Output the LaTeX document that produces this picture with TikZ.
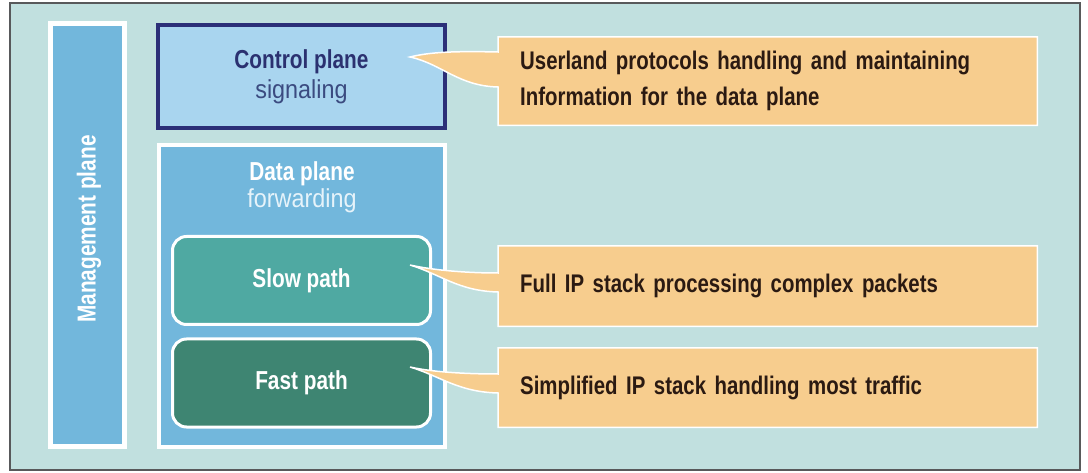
\documentclass[tikz,border=0pt]{standalone}
\usepackage{fontspec}
\setmainfont{Liberation Sans}
\newfontfamily\condfont[FakeStretch=0.8]{Liberation Sans}
\newfontfamily\softfont[FakeStretch=0.9]{Liberation Sans}

\definecolor{paper}{HTML}{C1E0DF}
\definecolor{framegray}{HTML}{58595B}
\definecolor{mgmtblue}{HTML}{72B7DC}
\definecolor{ctrlblue}{HTML}{A9D5EF}
\definecolor{navy}{HTML}{2B2F78}
\definecolor{navytext}{HTML}{2B3170}
\definecolor{signaltext}{HTML}{3B4B80}
\definecolor{slowteal}{HTML}{4FA9A2}
\definecolor{fastteal}{HTML}{3E8572}
\definecolor{notefill}{HTML}{F7CD8E}
\definecolor{notetext}{HTML}{2B1A12}
\definecolor{fwdtext}{HTML}{E6F3FA}

\pgfdeclarelayer{boxes}
\pgfdeclarelayer{bubbles}
\pgfsetlayers{boxes,bubbles,main}

\begin{document}
\begin{tikzpicture}[x=1pt,y=-1pt,
  frame/.style={draw=framegray,line width=1.5pt,fill=paper,minimum width=1070pt,minimum height=467pt,inner sep=0pt},
  mgmtbox/.style={draw=white,line width=5pt,fill=mgmtblue,minimum width=423pt,minimum height=74pt,inner sep=0pt,
    rotate=90,text=white,font=\condfont\fontsize{26}{28}\selectfont\bfseries},
  ctrlbox/.style={draw=navy,line width=4pt,fill=ctrlblue,minimum width=287pt,minimum height=103pt,inner sep=0pt,align=center},
  databox/.style={draw=white,line width=4pt,fill=mgmtblue,minimum width=286pt,minimum height=302pt,inner sep=0pt},
  pathbox/.style={draw=white,line width=3pt,rounded corners=14pt,minimum width=258pt,minimum height=88pt,inner sep=0pt,
    text=white,font=\condfont\fontsize{26}{28}\selectfont\bfseries},
  notebox/.style={anchor=north west,minimum width=539pt,text width=495pt,inner xsep=22pt,inner ysep=0pt,align=left,
    text=notetext,font=\condfont\fontsize{25.5}{36}\selectfont\bfseries},
  bubble/.style={fill=notefill,draw=white,line width=1.5pt,line join=miter}
]
\useasboundingbox (0,0) rectangle (1088,473);

\begin{pgfonlayer}{boxes}
  \fill[white] (0,0) rectangle (1088,473);
  \node[frame] (frame) at (545,236.5) {};
  % management plane column, label set upwards
  \node[mgmtbox] (mgmt) at (87.5,235) {};
  \node[rotate=90,text=white,font=\condfont\fontsize{26}{28}\selectfont\bfseries,inner sep=0pt]
    (mgmtlbl) at (89,229) {Management plane};
  % control plane
  \node[ctrlbox,font=\fontsize{26}{30}\selectfont] (ctrl) at (301.5,77)
    {{\condfont\bfseries\color{navytext}Control plane}\\
     {\softfont\color{signaltext}signaling}};
  % data plane with its two paths
  \node[databox] (data) at (302,296) {};
  \node[align=center,inner sep=0pt,font=\fontsize{26}{27}\selectfont] (datalbl) at (302,187)
    {{\condfont\bfseries\color{white}Data plane}\\
     {\softfont\color{fwdtext}forwarding}};
  \node[pathbox,fill=slowteal] (slow) at (301.5,280.5) {Slow path};
  \node[pathbox,fill=fastteal] (fast) at (301.5,383) {Fast path};
\end{pgfonlayer}

% notes
\node[notebox,minimum height=88pt] (n1) at (498,37)
  {Userland protocols handling and maintaining\\Information for the data plane};
\node[notebox,minimum height=80pt] (n2) at (498,246)
  {Full IP stack processing complex packets};
\node[notebox,minimum height=79pt] (n3) at (498,348)
  {Simplified IP stack handling most traffic};

\coordinate (t1) at (410,57);
\coordinate (t2) at (410,265);
\coordinate (t3) at (410,367);

\begin{pgfonlayer}{bubbles}
  \draw[bubble] (n1.north west) -- (n1.north east) -- (n1.south east) -- (n1.south west)
    -- ([yshift=-50pt]n1.north west) .. controls (458,86) and (442,64) .. (t1)
    .. controls (430,52) and (455,51) .. ([yshift=-15pt]n1.north west) -- cycle;
  \draw[bubble] (n2.north west) -- (n2.north east) -- (n2.south east) -- (n2.south west)
    -- ([yshift=-46pt]n2.north west) .. controls (458,291) and (440,274) .. (t2)
    .. controls (432,270) and (465,273) .. ([yshift=-27pt]n2.north west) -- cycle;
  \draw[bubble] (n3.north west) -- (n3.north east) -- (n3.south east) -- (n3.south west)
    -- ([yshift=-45pt]n3.north west) .. controls (458,392) and (440,376) .. (t3)
    .. controls (432,372) and (465,374) .. ([yshift=-26pt]n3.north west) -- cycle;
\end{pgfonlayer}
\end{tikzpicture}
\end{document}
